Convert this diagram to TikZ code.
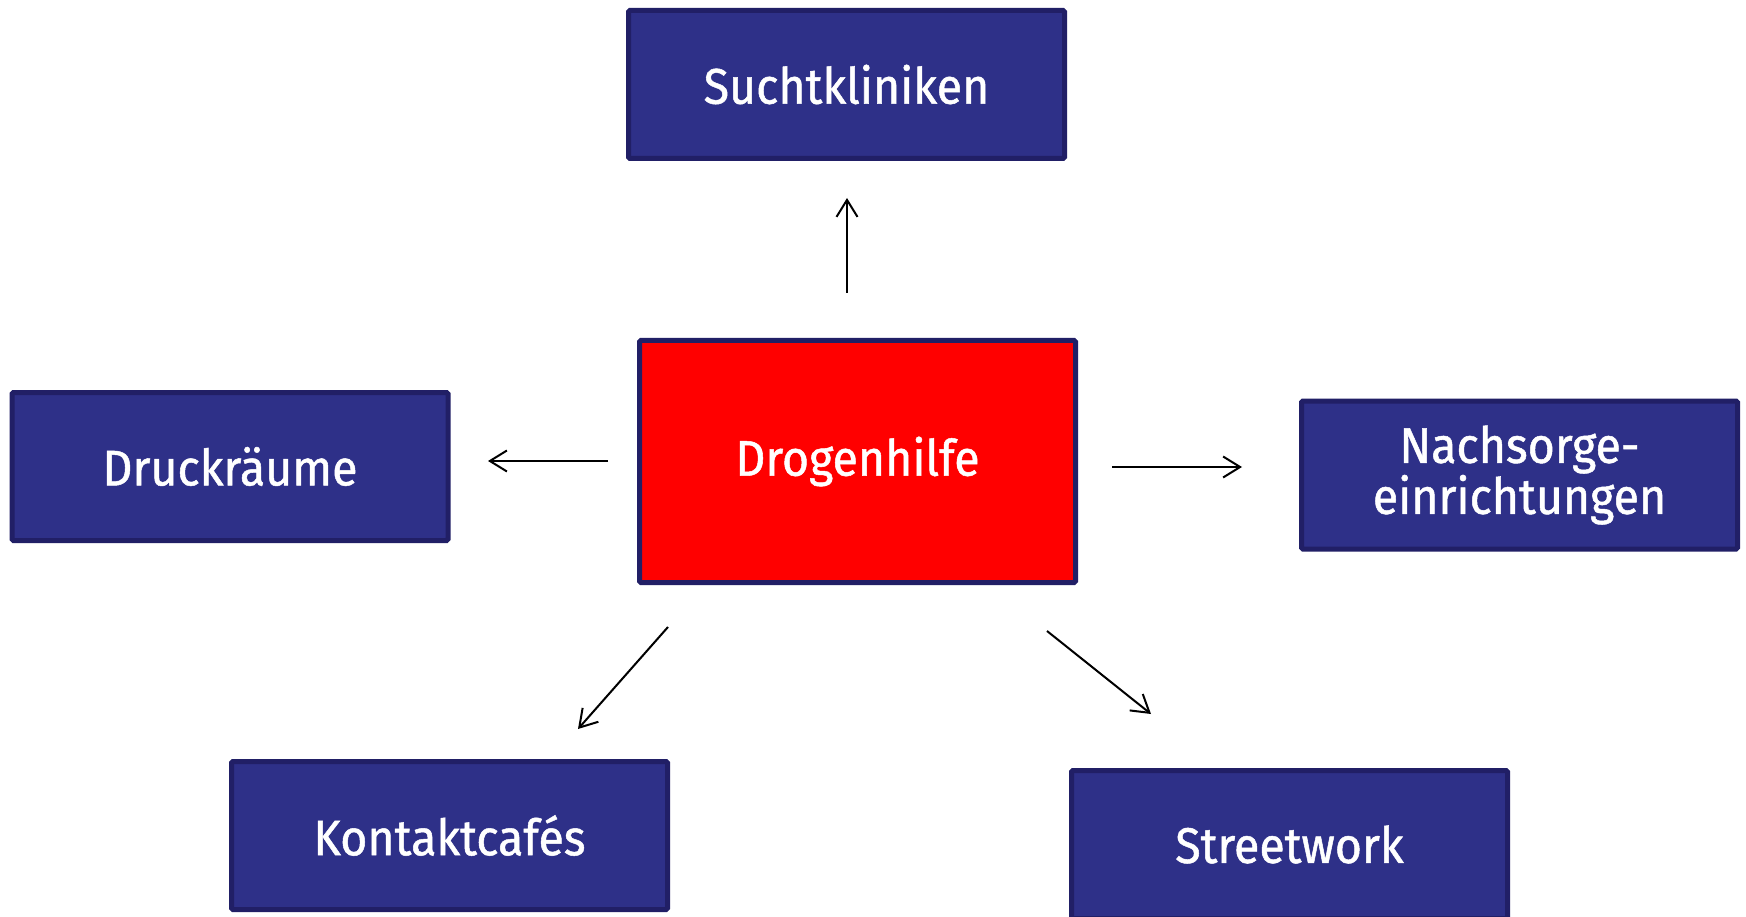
\documentclass[tikz,border=0pt]{standalone}
\usepackage{fontspec}
\setmainfont[FakeStretch=0.93,FakeBold=1]{Fira Sans}
\usetikzlibrary{arrows.meta}
\definecolor{boxblue}{HTML}{2E3088}
\definecolor{boxline}{HTML}{211F66}
\definecolor{boxred}{HTML}{FF0000}
\tikzset{
  bluebox/.style={draw=boxline, fill=boxblue, line width=5pt, rounded corners=1.5pt,
    minimum width=436pt, minimum height=148pt, inner sep=0pt, text=white,
    font=\fontsize{50}{50}\selectfont, align=center},
  redbox/.style={bluebox, fill=boxred, minimum height=242pt},
  conn/.style={line width=2pt, -{Straight Barb[length=17pt,width=21pt,line width=2pt]}}
}
\begin{document}
\begin{tikzpicture}[x=1pt,y=-1pt]
\useasboundingbox (0,0) rectangle (1746,917);
\clip (0,0) rectangle (1746,917);
\fill[white] (0,0) rectangle (1746,917);
\node[redbox]  (dro) at (857.5,461.5) {Drogenhilfe};
\node[bluebox] (suc) at (846.5,84.5) {Suchtkliniken};
\node[bluebox] (dru) at (230,466.5) {Druckräume};
\node[bluebox, font=\fontsize{50}{51}\selectfont] (nac) at (1519.5,475) {Nachsorge-\\einrichtungen};
\node[bluebox] (kon) at (449.5,835.5) {Kontaktcafés};
\node[bluebox] (str) at (1289.5,844.5) {Streetwork};
\coordinate (aus) at (847,293);
\coordinate (aue) at (847,198);
\coordinate (als) at (608,461);
\coordinate (ale) at (488,461);
\coordinate (ars) at (1112,467);
\coordinate (are) at (1242,467);
\coordinate (ads) at (668,627);
\coordinate (ade) at (578,729);
\coordinate (aes) at (1047,631);
\coordinate (aee) at (1151,714);
\draw[conn] (aus) -- (aue);
\draw[conn] (als) -- (ale);
\draw[conn] (ars) -- (are);
\draw[conn] (ads) -- (ade);
\draw[conn] (aes) -- (aee);
\end{tikzpicture}
\end{document}
